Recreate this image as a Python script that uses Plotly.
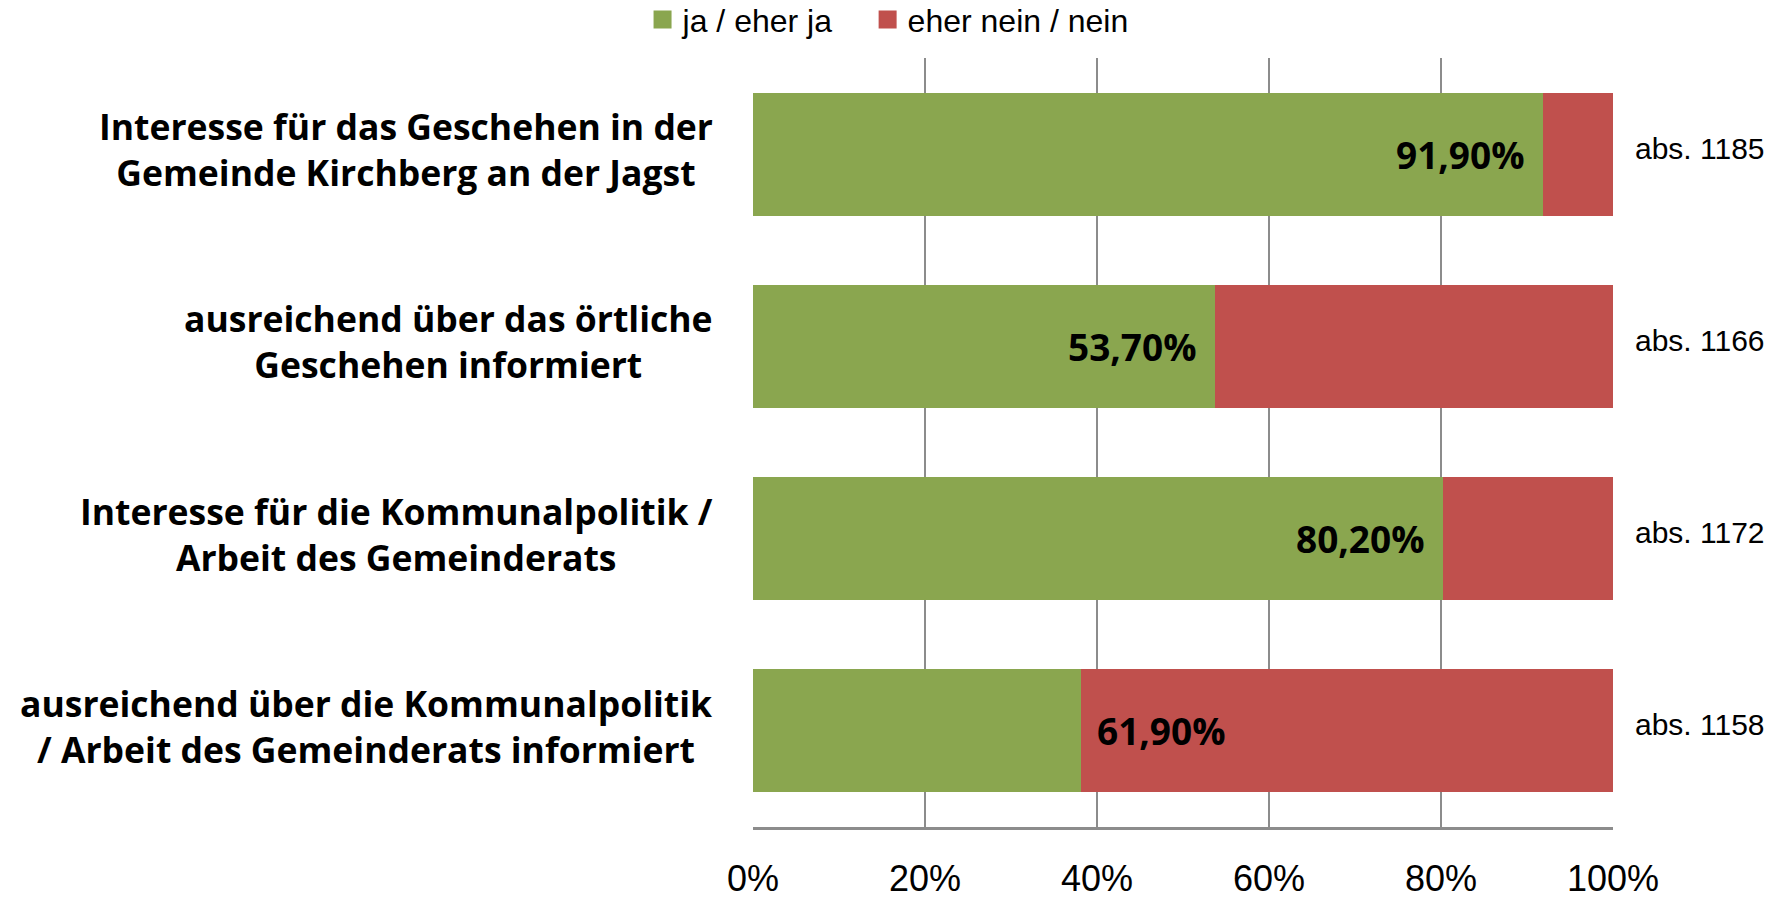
import plotly.graph_objects as go

categories = [
    "Interesse für das Geschehen in der<br>Gemeinde Kirchberg an der Jagst",
    "ausreichend über das örtliche<br>Geschehen informiert",
    "Interesse für die Kommunalpolitik /<br>Arbeit des Gemeinderats",
    "ausreichend über die Kommunalpolitik<br>/ Arbeit des Gemeinderats informiert",
]
keys = ["c1", "c2", "c3", "c4"]
ja = [91.9, 53.7, 80.2, 38.1]
nein = [8.1, 46.3, 19.8, 61.9]
value_labels = ["91,90%", "53,70%", "80,20%", "61,90%"]
label_on_nein = [False, False, False, True]
abs_counts = [1185, 1166, 1172, 1158]
series_names = ["ja / eher ja", "eher nein / nein"]
tick_vals = [0, 20, 40, 60, 80, 100]
tick_text = ["0%", "20%", "40%", "60%", "80%", "100%"]

GREEN = "#8aa64f"
RED = "#c0504d"
GRID = "#8c8c8c"
REG = "Liberation Sans"
BOLD = "Open Sans"

fig = go.Figure()
fig.add_trace(go.Bar(y=keys, x=ja, orientation="h", marker=dict(color=GREEN, line=dict(width=0)),
                     width=0.64, showlegend=False, hoverinfo="skip"))
fig.add_trace(go.Bar(y=keys, x=nein, orientation="h", marker=dict(color=RED, line=dict(width=0)),
                     width=0.64, showlegend=False, hoverinfo="skip"))
# legend entries (one legend box per series)
for name, col, lg in zip(series_names, [GREEN, RED], ["legend", "legend2"]):
    fig.add_trace(go.Scatter(x=[None], y=[None], mode="markers", name=name, legend=lg,
                             marker=dict(symbol="square", size=18, color=col,
                                         line=dict(width=2, color=col))))

annotations = []
for i, k in enumerate(keys):
    annotations.append(dict(xref="paper", yref="y", x=-0.044, y=k, text="<b>" + categories[i] + "</b>",
                            showarrow=False, xanchor="right", yanchor="middle", align="center",
                            yshift=5, font=dict(family=BOLD, size=35.5, color="#000000")))
    if label_on_nein[i]:
        annotations.append(dict(xref="x", yref="y", x=ja[i], y=k, text="<b>" + value_labels[i] + "</b>",
                                showarrow=False, xanchor="left", yanchor="middle", xshift=14,
                                font=dict(family=BOLD, size=37, color="#000000")))
    else:
        annotations.append(dict(xref="x", yref="y", x=ja[i], y=k, text="<b>" + value_labels[i] + "</b>",
                                showarrow=False, xanchor="right", yanchor="middle", xshift=-16,
                                font=dict(family=BOLD, size=37, color="#000000")))
    annotations.append(dict(xref="paper", yref="y", x=1.0, y=k, text="abs. " + str(abs_counts[i]),
                            showarrow=False, xanchor="left", yanchor="middle", xshift=20, yshift=6,
                            font=dict(family=REG, size=30, color="#000000")))

legend_common = dict(orientation="h", xref="container", yref="container", y=0.978,
                     xanchor="left", yanchor="middle",
                     font=dict(family=REG, size=32, color="#000000"), itemsizing="trace")

fig.update_layout(
    width=1775, height=898,
    margin=dict(l=753, r=162, t=58, b=71, autoexpand=False),
    paper_bgcolor="white", plot_bgcolor="white",
    barmode="stack", bargap=0.36,
    annotations=annotations,
    showlegend=True,
    legend=dict(x=0.362, **legend_common),
    legend2=dict(x=0.4888, **legend_common),
    xaxis=dict(range=[0, 100], tickvals=tick_vals, ticktext=tick_text, showgrid=True,
               gridcolor=GRID, gridwidth=2, zeroline=False, showline=True, linecolor=GRID,
               linewidth=3, ticks="", ticklabelstandoff=18,
               tickfont=dict(family=REG, size=36, color="#000000")),
    yaxis=dict(categoryorder="array", categoryarray=keys, autorange="reversed",
               showticklabels=False, showgrid=False, zeroline=False, showline=False, ticks=""),
)

fig.write_html("out.html", config={"displayModeBar": False},
               post_script="document.body.style.margin='0';document.body.style.overflow='hidden';")
